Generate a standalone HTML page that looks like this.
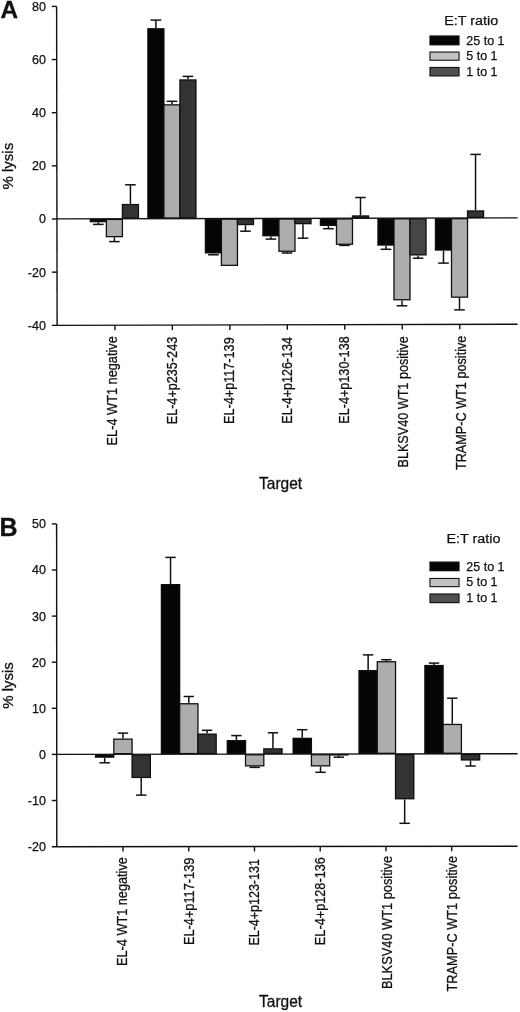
<!DOCTYPE html>
<html><head><meta charset="utf-8"><title>Figure</title>
<style>
html,body{margin:0;padding:0;background:#fff;}
body{width:520px;height:1012px;overflow:hidden;}
svg{display:block;will-change:transform;filter:blur(0.4px);}
text{font-family:"Liberation Sans", sans-serif;fill:#111;}
</style></head>
<body>
<svg width="520" height="1012" viewBox="0 0 520 1012">
<rect width="520" height="1012" fill="#fff"/>
<line x1="56.60" y1="6.40" x2="57.10" y2="325.40" stroke="#111" stroke-width="1.4"/>
<line x1="51.80" y1="6.40" x2="56.60" y2="6.40" stroke="#111" stroke-width="1.4"/>
<line x1="51.80" y1="59.55" x2="56.68" y2="59.55" stroke="#111" stroke-width="1.4"/>
<line x1="51.80" y1="112.70" x2="56.77" y2="112.70" stroke="#111" stroke-width="1.4"/>
<line x1="51.80" y1="165.85" x2="56.85" y2="165.85" stroke="#111" stroke-width="1.4"/>
<line x1="51.80" y1="219.00" x2="56.93" y2="219.00" stroke="#111" stroke-width="1.4"/>
<line x1="51.80" y1="272.15" x2="57.02" y2="272.15" stroke="#111" stroke-width="1.4"/>
<text stroke-linejoin="round" x="45.90" y="10.80" font-size="12.5" text-anchor="end" font-weight="normal" stroke="#111" stroke-width="0.25">80</text>
<text stroke-linejoin="round" x="45.90" y="63.95" font-size="12.5" text-anchor="end" font-weight="normal" stroke="#111" stroke-width="0.25">60</text>
<text stroke-linejoin="round" x="45.90" y="117.10" font-size="12.5" text-anchor="end" font-weight="normal" stroke="#111" stroke-width="0.25">40</text>
<text stroke-linejoin="round" x="45.90" y="170.25" font-size="12.5" text-anchor="end" font-weight="normal" stroke="#111" stroke-width="0.25">20</text>
<text stroke-linejoin="round" x="45.90" y="223.40" font-size="12.5" text-anchor="end" font-weight="normal" stroke="#111" stroke-width="0.25">0</text>
<text stroke-linejoin="round" x="45.90" y="276.55" font-size="12.5" text-anchor="end" font-weight="normal" stroke="#111" stroke-width="0.25">-20</text>
<text stroke-linejoin="round" x="45.90" y="329.70" font-size="12.5" text-anchor="end" font-weight="normal" stroke="#111" stroke-width="0.25">-40</text>
<line x1="56.80" y1="218.90" x2="517.60" y2="217.90" stroke="#111" stroke-width="1.4"/>
<line x1="51.80" y1="325.40" x2="517.60" y2="324.20" stroke="#111" stroke-width="1.4"/>
<line x1="114.90" y1="325.24" x2="114.90" y2="330.24" stroke="#111" stroke-width="1.4"/>
<line x1="172.37" y1="325.09" x2="172.37" y2="330.09" stroke="#111" stroke-width="1.4"/>
<line x1="229.84" y1="324.94" x2="229.84" y2="329.94" stroke="#111" stroke-width="1.4"/>
<line x1="287.31" y1="324.79" x2="287.31" y2="329.79" stroke="#111" stroke-width="1.4"/>
<line x1="344.78" y1="324.65" x2="344.78" y2="329.65" stroke="#111" stroke-width="1.4"/>
<line x1="402.25" y1="324.50" x2="402.25" y2="329.50" stroke="#111" stroke-width="1.4"/>
<line x1="459.72" y1="324.35" x2="459.72" y2="329.35" stroke="#111" stroke-width="1.4"/>
<line x1="98.37" y1="222.30" x2="98.37" y2="224.40" stroke="#111" stroke-width="1.5"/>
<line x1="93.07" y1="224.40" x2="103.67" y2="224.40" stroke="#111" stroke-width="1.5"/>
<rect x="89.70" y="218.81" width="17.33" height="3.49" fill="#111"/>
<rect x="91.00" y="220.11" width="14.73" height="0.89" fill="#050505"/>
<line x1="114.40" y1="237.30" x2="114.40" y2="241.60" stroke="#111" stroke-width="1.5"/>
<line x1="109.10" y1="241.60" x2="119.70" y2="241.60" stroke="#111" stroke-width="1.5"/>
<rect x="105.73" y="218.78" width="17.33" height="18.52" fill="#111"/>
<rect x="107.03" y="220.08" width="14.73" height="15.92" fill="#adadad"/>
<line x1="130.43" y1="203.90" x2="130.43" y2="184.80" stroke="#111" stroke-width="1.5"/>
<line x1="125.13" y1="184.80" x2="135.73" y2="184.80" stroke="#111" stroke-width="1.5"/>
<rect x="121.76" y="203.90" width="17.33" height="14.84" fill="#111"/>
<rect x="123.06" y="205.20" width="14.73" height="12.24" fill="#333333"/>
<line x1="155.88" y1="28.10" x2="155.88" y2="20.10" stroke="#111" stroke-width="1.5"/>
<line x1="150.58" y1="20.10" x2="161.19" y2="20.10" stroke="#111" stroke-width="1.5"/>
<rect x="147.22" y="28.10" width="17.33" height="190.58" fill="#111"/>
<rect x="148.52" y="29.40" width="14.73" height="187.98" fill="#050505"/>
<line x1="171.92" y1="104.20" x2="171.92" y2="101.30" stroke="#111" stroke-width="1.5"/>
<line x1="166.62" y1="101.30" x2="177.22" y2="101.30" stroke="#111" stroke-width="1.5"/>
<rect x="163.25" y="104.20" width="17.33" height="114.45" fill="#111"/>
<rect x="164.55" y="105.50" width="14.73" height="111.85" fill="#adadad"/>
<line x1="187.94" y1="79.30" x2="187.94" y2="76.40" stroke="#111" stroke-width="1.5"/>
<line x1="182.64" y1="76.40" x2="193.25" y2="76.40" stroke="#111" stroke-width="1.5"/>
<rect x="179.28" y="79.30" width="17.33" height="139.32" fill="#111"/>
<rect x="180.58" y="80.60" width="14.73" height="136.72" fill="#333333"/>
<line x1="213.41" y1="253.50" x2="213.41" y2="254.80" stroke="#111" stroke-width="1.5"/>
<line x1="208.11" y1="254.80" x2="218.71" y2="254.80" stroke="#111" stroke-width="1.5"/>
<rect x="204.74" y="218.56" width="17.33" height="34.94" fill="#111"/>
<rect x="206.04" y="219.86" width="14.73" height="32.34" fill="#050505"/>
<rect x="220.77" y="218.53" width="17.33" height="47.47" fill="#111"/>
<rect x="222.07" y="219.83" width="14.73" height="44.87" fill="#adadad"/>
<line x1="245.47" y1="225.20" x2="245.47" y2="231.20" stroke="#111" stroke-width="1.5"/>
<line x1="240.17" y1="231.20" x2="250.77" y2="231.20" stroke="#111" stroke-width="1.5"/>
<rect x="236.80" y="218.49" width="17.33" height="6.71" fill="#111"/>
<rect x="238.10" y="219.79" width="14.73" height="4.11" fill="#333333"/>
<line x1="270.92" y1="236.40" x2="270.92" y2="239.10" stroke="#111" stroke-width="1.5"/>
<line x1="265.62" y1="239.10" x2="276.22" y2="239.10" stroke="#111" stroke-width="1.5"/>
<rect x="262.26" y="218.44" width="17.33" height="17.96" fill="#111"/>
<rect x="263.56" y="219.74" width="14.73" height="15.36" fill="#050505"/>
<line x1="286.95" y1="251.90" x2="286.95" y2="253.00" stroke="#111" stroke-width="1.5"/>
<line x1="281.65" y1="253.00" x2="292.25" y2="253.00" stroke="#111" stroke-width="1.5"/>
<rect x="278.29" y="218.40" width="17.33" height="33.50" fill="#111"/>
<rect x="279.59" y="219.70" width="14.73" height="30.90" fill="#adadad"/>
<line x1="302.99" y1="224.30" x2="302.99" y2="238.20" stroke="#111" stroke-width="1.5"/>
<line x1="297.69" y1="238.20" x2="308.29" y2="238.20" stroke="#111" stroke-width="1.5"/>
<rect x="294.32" y="218.37" width="17.33" height="5.93" fill="#111"/>
<rect x="295.62" y="219.67" width="14.73" height="3.33" fill="#333333"/>
<line x1="328.45" y1="226.00" x2="328.45" y2="228.70" stroke="#111" stroke-width="1.5"/>
<line x1="323.15" y1="228.70" x2="333.75" y2="228.70" stroke="#111" stroke-width="1.5"/>
<rect x="319.78" y="218.31" width="17.33" height="7.69" fill="#111"/>
<rect x="321.08" y="219.61" width="14.73" height="5.09" fill="#050505"/>
<line x1="344.48" y1="244.90" x2="344.48" y2="245.40" stroke="#111" stroke-width="1.5"/>
<line x1="339.18" y1="245.40" x2="349.78" y2="245.40" stroke="#111" stroke-width="1.5"/>
<rect x="335.81" y="218.28" width="17.33" height="26.62" fill="#111"/>
<rect x="337.11" y="219.58" width="14.73" height="24.02" fill="#adadad"/>
<line x1="360.50" y1="215.30" x2="360.50" y2="197.50" stroke="#111" stroke-width="1.5"/>
<line x1="355.20" y1="197.50" x2="365.81" y2="197.50" stroke="#111" stroke-width="1.5"/>
<rect x="351.84" y="215.30" width="17.33" height="2.94" fill="#111"/>
<rect x="353.14" y="216.60" width="14.73" height="0.34" fill="#333333"/>
<line x1="385.97" y1="245.70" x2="385.97" y2="249.30" stroke="#111" stroke-width="1.5"/>
<line x1="380.67" y1="249.30" x2="391.27" y2="249.30" stroke="#111" stroke-width="1.5"/>
<rect x="377.30" y="218.19" width="17.33" height="27.51" fill="#111"/>
<rect x="378.60" y="219.49" width="14.73" height="24.91" fill="#050505"/>
<line x1="402.00" y1="300.40" x2="402.00" y2="305.80" stroke="#111" stroke-width="1.5"/>
<line x1="396.69" y1="305.80" x2="407.30" y2="305.80" stroke="#111" stroke-width="1.5"/>
<rect x="393.33" y="218.15" width="17.33" height="82.25" fill="#111"/>
<rect x="394.63" y="219.45" width="14.73" height="79.65" fill="#adadad"/>
<line x1="418.02" y1="255.50" x2="418.02" y2="258.20" stroke="#111" stroke-width="1.5"/>
<line x1="412.72" y1="258.20" x2="423.32" y2="258.20" stroke="#111" stroke-width="1.5"/>
<rect x="409.36" y="218.12" width="17.33" height="37.38" fill="#111"/>
<rect x="410.66" y="219.42" width="14.73" height="34.78" fill="#464646"/>
<line x1="443.49" y1="250.70" x2="443.49" y2="263.10" stroke="#111" stroke-width="1.5"/>
<line x1="438.19" y1="263.10" x2="448.79" y2="263.10" stroke="#111" stroke-width="1.5"/>
<rect x="434.82" y="218.06" width="17.33" height="32.64" fill="#111"/>
<rect x="436.12" y="219.36" width="14.73" height="30.04" fill="#050505"/>
<line x1="459.51" y1="297.80" x2="459.51" y2="309.90" stroke="#111" stroke-width="1.5"/>
<line x1="454.21" y1="309.90" x2="464.81" y2="309.90" stroke="#111" stroke-width="1.5"/>
<rect x="450.85" y="218.03" width="17.33" height="79.77" fill="#111"/>
<rect x="452.15" y="219.33" width="14.73" height="77.17" fill="#adadad"/>
<line x1="475.54" y1="210.30" x2="475.54" y2="154.40" stroke="#111" stroke-width="1.5"/>
<line x1="470.24" y1="154.40" x2="480.84" y2="154.40" stroke="#111" stroke-width="1.5"/>
<rect x="466.88" y="210.30" width="17.33" height="7.69" fill="#111"/>
<rect x="468.18" y="211.60" width="14.73" height="5.09" fill="#333333"/>
<text stroke-linejoin="round" transform="translate(116.90 336.22) rotate(-90) scale(1 1.1)" font-size="12.85" text-anchor="end" font-weight="normal" textLength="109.17" lengthAdjust="spacingAndGlyphs" stroke="#111" stroke-width="0.25">EL-4 WT1 negative</text>
<text stroke-linejoin="round" transform="translate(177.30 336.82) rotate(-90) scale(1 1.1)" font-size="12.85" text-anchor="end" font-weight="normal" textLength="87.49" lengthAdjust="spacingAndGlyphs" stroke="#111" stroke-width="0.25">EL-4+p235-243</text>
<text stroke-linejoin="round" transform="translate(233.90 337.34) rotate(-90) scale(1 1.1)" font-size="12.85" text-anchor="end" font-weight="normal" textLength="86.58" lengthAdjust="spacingAndGlyphs" stroke="#111" stroke-width="0.25">EL-4+p117-139</text>
<text stroke-linejoin="round" transform="translate(292.10 337.09) rotate(-90) scale(1 1.1)" font-size="12.85" text-anchor="end" font-weight="normal" textLength="86.63" lengthAdjust="spacingAndGlyphs" stroke="#111" stroke-width="0.25">EL-4+p126-134</text>
<text stroke-linejoin="round" transform="translate(348.90 336.34) rotate(-90) scale(1 1.1)" font-size="12.85" text-anchor="end" font-weight="normal" textLength="87.38" lengthAdjust="spacingAndGlyphs" stroke="#111" stroke-width="0.25">EL-4+p130-138</text>
<text stroke-linejoin="round" transform="translate(407.92 336.30) rotate(-90) scale(1 1.1)" font-size="12.85" text-anchor="end" font-weight="normal" textLength="131.23" lengthAdjust="spacingAndGlyphs" stroke="#111" stroke-width="0.25">BLKSV40 WT1 positive</text>
<text stroke-linejoin="round" transform="translate(465.89 335.64) rotate(-90) scale(1 1.1)" font-size="12.85" text-anchor="end" font-weight="normal" textLength="134.45" lengthAdjust="spacingAndGlyphs" stroke="#111" stroke-width="0.25">TRAMP-C WT1 positive</text>
<text stroke-linejoin="round" transform="translate(13.00 166.20) rotate(-90) scale(1 1.02)" font-size="15" text-anchor="middle" font-weight="normal" stroke="#111" stroke-width="0.3">% lysis</text>
<text stroke-linejoin="round" transform="translate(280.60 489.00) scale(1 1.08)" font-size="15.5" text-anchor="middle" font-weight="normal" stroke="#111" stroke-width="0.3">Target</text>
<text stroke-linejoin="round" x="444.20" y="24.90" font-size="12.5" text-anchor="start" font-weight="normal" textLength="54.0" lengthAdjust="spacingAndGlyphs" stroke="#111" stroke-width="0.25">E:T ratio</text>
<rect x="429.4" y="35.40" width="30.2" height="10.00" fill="#111"/>
<rect x="430.5" y="36.50" width="28" height="7.80" fill="#050505"/>
<text stroke-linejoin="round" x="466.30" y="44.60" font-size="12.5" text-anchor="start" font-weight="normal" stroke="#111" stroke-width="0.25">25 to 1</text>
<rect x="429.4" y="51.50" width="30.2" height="9.30" fill="#111"/>
<rect x="430.5" y="52.60" width="28" height="7.10" fill="#c2c2c2"/>
<text stroke-linejoin="round" x="466.30" y="60.00" font-size="12.5" text-anchor="start" font-weight="normal" stroke="#111" stroke-width="0.25">5 to 1</text>
<rect x="429.4" y="66.90" width="30.2" height="9.60" fill="#111"/>
<rect x="430.5" y="68.00" width="28" height="7.40" fill="#505050"/>
<text stroke-linejoin="round" x="466.30" y="75.80" font-size="12.5" text-anchor="start" font-weight="normal" stroke="#111" stroke-width="0.25">1 to 1</text>
<text stroke-linejoin="round" x="0.60" y="17.80" font-size="24" text-anchor="start" font-weight="bold" textLength="17.6" lengthAdjust="spacingAndGlyphs" stroke="#111" stroke-width="0.3">A</text>
<line x1="56.60" y1="523.90" x2="56.80" y2="846.70" stroke="#111" stroke-width="1.4"/>
<line x1="51.80" y1="523.90" x2="56.60" y2="523.90" stroke="#111" stroke-width="1.4"/>
<line x1="51.80" y1="570.00" x2="56.63" y2="570.00" stroke="#111" stroke-width="1.4"/>
<line x1="51.80" y1="616.10" x2="56.66" y2="616.10" stroke="#111" stroke-width="1.4"/>
<line x1="51.80" y1="662.20" x2="56.69" y2="662.20" stroke="#111" stroke-width="1.4"/>
<line x1="51.80" y1="708.30" x2="56.71" y2="708.30" stroke="#111" stroke-width="1.4"/>
<line x1="51.80" y1="754.40" x2="56.74" y2="754.40" stroke="#111" stroke-width="1.4"/>
<line x1="51.80" y1="800.50" x2="56.77" y2="800.50" stroke="#111" stroke-width="1.4"/>
<text stroke-linejoin="round" x="45.90" y="528.30" font-size="12.5" text-anchor="end" font-weight="normal" stroke="#111" stroke-width="0.25">50</text>
<text stroke-linejoin="round" x="45.90" y="574.40" font-size="12.5" text-anchor="end" font-weight="normal" stroke="#111" stroke-width="0.25">40</text>
<text stroke-linejoin="round" x="45.90" y="620.50" font-size="12.5" text-anchor="end" font-weight="normal" stroke="#111" stroke-width="0.25">30</text>
<text stroke-linejoin="round" x="45.90" y="666.60" font-size="12.5" text-anchor="end" font-weight="normal" stroke="#111" stroke-width="0.25">20</text>
<text stroke-linejoin="round" x="45.90" y="712.70" font-size="12.5" text-anchor="end" font-weight="normal" stroke="#111" stroke-width="0.25">10</text>
<text stroke-linejoin="round" x="45.90" y="758.80" font-size="12.5" text-anchor="end" font-weight="normal" stroke="#111" stroke-width="0.25">0</text>
<text stroke-linejoin="round" x="45.90" y="804.90" font-size="12.5" text-anchor="end" font-weight="normal" stroke="#111" stroke-width="0.25">-10</text>
<text stroke-linejoin="round" x="45.90" y="851.00" font-size="12.5" text-anchor="end" font-weight="normal" stroke="#111" stroke-width="0.25">-20</text>
<line x1="56.80" y1="754.40" x2="517.60" y2="753.80" stroke="#111" stroke-width="1.4"/>
<line x1="51.80" y1="846.70" x2="517.60" y2="846.20" stroke="#111" stroke-width="1.4"/>
<line x1="123.00" y1="846.62" x2="123.00" y2="851.62" stroke="#111" stroke-width="1.4"/>
<line x1="188.74" y1="846.55" x2="188.74" y2="851.55" stroke="#111" stroke-width="1.4"/>
<line x1="254.48" y1="846.48" x2="254.48" y2="851.48" stroke="#111" stroke-width="1.4"/>
<line x1="320.22" y1="846.41" x2="320.22" y2="851.41" stroke="#111" stroke-width="1.4"/>
<line x1="385.96" y1="846.34" x2="385.96" y2="851.34" stroke="#111" stroke-width="1.4"/>
<line x1="451.70" y1="846.27" x2="451.70" y2="851.27" stroke="#111" stroke-width="1.4"/>
<line x1="104.67" y1="757.80" x2="104.67" y2="762.80" stroke="#111" stroke-width="1.5"/>
<line x1="99.47" y1="762.80" x2="109.87" y2="762.80" stroke="#111" stroke-width="1.5"/>
<rect x="94.89" y="754.34" width="19.57" height="3.46" fill="#111"/>
<rect x="96.19" y="755.64" width="16.97" height="0.86" fill="#050505"/>
<line x1="122.94" y1="738.50" x2="122.94" y2="733.10" stroke="#111" stroke-width="1.5"/>
<line x1="117.74" y1="733.10" x2="128.14" y2="733.10" stroke="#111" stroke-width="1.5"/>
<rect x="113.16" y="738.50" width="19.57" height="15.81" fill="#111"/>
<rect x="114.45" y="739.80" width="16.97" height="13.21" fill="#adadad"/>
<line x1="141.21" y1="778.10" x2="141.21" y2="795.10" stroke="#111" stroke-width="1.5"/>
<line x1="136.01" y1="795.10" x2="146.41" y2="795.10" stroke="#111" stroke-width="1.5"/>
<rect x="131.43" y="754.29" width="19.57" height="23.81" fill="#111"/>
<rect x="132.73" y="755.59" width="16.97" height="21.21" fill="#333333"/>
<line x1="170.54" y1="584.00" x2="170.54" y2="557.40" stroke="#111" stroke-width="1.5"/>
<line x1="165.34" y1="557.40" x2="175.74" y2="557.40" stroke="#111" stroke-width="1.5"/>
<rect x="160.75" y="584.00" width="19.57" height="170.25" fill="#111"/>
<rect x="162.05" y="585.30" width="16.97" height="167.65" fill="#050505"/>
<line x1="188.81" y1="703.10" x2="188.81" y2="696.50" stroke="#111" stroke-width="1.5"/>
<line x1="183.61" y1="696.50" x2="194.01" y2="696.50" stroke="#111" stroke-width="1.5"/>
<rect x="179.02" y="703.10" width="19.57" height="51.13" fill="#111"/>
<rect x="180.32" y="704.40" width="16.97" height="48.53" fill="#adadad"/>
<line x1="207.08" y1="733.50" x2="207.08" y2="730.30" stroke="#111" stroke-width="1.5"/>
<line x1="201.88" y1="730.30" x2="212.28" y2="730.30" stroke="#111" stroke-width="1.5"/>
<rect x="197.29" y="733.50" width="19.57" height="20.70" fill="#111"/>
<rect x="198.59" y="734.80" width="16.97" height="18.10" fill="#333333"/>
<line x1="236.40" y1="740.00" x2="236.40" y2="735.60" stroke="#111" stroke-width="1.5"/>
<line x1="231.20" y1="735.60" x2="241.60" y2="735.60" stroke="#111" stroke-width="1.5"/>
<rect x="226.62" y="740.00" width="19.57" height="14.17" fill="#111"/>
<rect x="227.92" y="741.30" width="16.97" height="11.57" fill="#050505"/>
<line x1="254.67" y1="766.50" x2="254.67" y2="767.40" stroke="#111" stroke-width="1.5"/>
<line x1="249.47" y1="767.40" x2="259.87" y2="767.40" stroke="#111" stroke-width="1.5"/>
<rect x="244.89" y="754.14" width="19.57" height="12.36" fill="#111"/>
<rect x="246.19" y="755.44" width="16.97" height="9.76" fill="#adadad"/>
<line x1="272.94" y1="748.20" x2="272.94" y2="732.80" stroke="#111" stroke-width="1.5"/>
<line x1="267.74" y1="732.80" x2="278.14" y2="732.80" stroke="#111" stroke-width="1.5"/>
<rect x="263.16" y="748.20" width="19.57" height="5.92" fill="#111"/>
<rect x="264.46" y="749.50" width="16.97" height="3.32" fill="#333333"/>
<line x1="302.27" y1="737.70" x2="302.27" y2="729.70" stroke="#111" stroke-width="1.5"/>
<line x1="297.07" y1="729.70" x2="307.47" y2="729.70" stroke="#111" stroke-width="1.5"/>
<rect x="292.48" y="737.70" width="19.57" height="16.38" fill="#111"/>
<rect x="293.78" y="739.00" width="16.97" height="13.78" fill="#050505"/>
<line x1="320.54" y1="766.50" x2="320.54" y2="772.30" stroke="#111" stroke-width="1.5"/>
<line x1="315.34" y1="772.30" x2="325.74" y2="772.30" stroke="#111" stroke-width="1.5"/>
<rect x="310.75" y="754.06" width="19.57" height="12.44" fill="#111"/>
<rect x="312.05" y="755.36" width="16.97" height="9.84" fill="#adadad"/>
<line x1="338.81" y1="755.60" x2="338.81" y2="757.20" stroke="#111" stroke-width="1.5"/>
<line x1="333.61" y1="757.20" x2="344.01" y2="757.20" stroke="#111" stroke-width="1.5"/>
<rect x="329.02" y="754.03" width="19.57" height="1.57" fill="#111"/>
<line x1="368.13" y1="670.00" x2="368.13" y2="654.90" stroke="#111" stroke-width="1.5"/>
<line x1="362.93" y1="654.90" x2="373.33" y2="654.90" stroke="#111" stroke-width="1.5"/>
<rect x="358.35" y="670.00" width="19.57" height="83.99" fill="#111"/>
<rect x="359.65" y="671.30" width="16.97" height="81.39" fill="#050505"/>
<line x1="386.40" y1="661.10" x2="386.40" y2="659.70" stroke="#111" stroke-width="1.5"/>
<line x1="381.20" y1="659.70" x2="391.60" y2="659.70" stroke="#111" stroke-width="1.5"/>
<rect x="376.62" y="661.10" width="19.57" height="92.87" fill="#111"/>
<rect x="377.92" y="662.40" width="16.97" height="90.27" fill="#adadad"/>
<line x1="404.67" y1="799.40" x2="404.67" y2="823.30" stroke="#111" stroke-width="1.5"/>
<line x1="399.47" y1="823.30" x2="409.87" y2="823.30" stroke="#111" stroke-width="1.5"/>
<rect x="394.89" y="753.95" width="19.57" height="45.45" fill="#111"/>
<rect x="396.19" y="755.25" width="16.97" height="42.85" fill="#333333"/>
<line x1="434.00" y1="664.90" x2="434.00" y2="663.10" stroke="#111" stroke-width="1.5"/>
<line x1="428.80" y1="663.10" x2="439.20" y2="663.10" stroke="#111" stroke-width="1.5"/>
<rect x="424.21" y="664.90" width="19.57" height="89.01" fill="#111"/>
<rect x="425.51" y="666.20" width="16.97" height="86.41" fill="#050505"/>
<line x1="452.27" y1="723.80" x2="452.27" y2="698.20" stroke="#111" stroke-width="1.5"/>
<line x1="447.07" y1="698.20" x2="457.47" y2="698.20" stroke="#111" stroke-width="1.5"/>
<rect x="442.48" y="723.80" width="19.57" height="30.09" fill="#111"/>
<rect x="443.78" y="725.10" width="16.97" height="27.49" fill="#adadad"/>
<line x1="470.54" y1="760.60" x2="470.54" y2="766.00" stroke="#111" stroke-width="1.5"/>
<line x1="465.34" y1="766.00" x2="475.74" y2="766.00" stroke="#111" stroke-width="1.5"/>
<rect x="460.75" y="753.86" width="19.57" height="6.74" fill="#111"/>
<rect x="462.06" y="755.16" width="16.97" height="4.14" fill="#333333"/>
<text stroke-linejoin="round" transform="translate(127.30 857.17) rotate(-90) scale(1 1.1)" font-size="12.85" text-anchor="end" font-weight="normal" textLength="108.83" lengthAdjust="spacingAndGlyphs" stroke="#111" stroke-width="0.25">EL-4 WT1 negative</text>
<text stroke-linejoin="round" transform="translate(193.50 857.59) rotate(-90) scale(1 1.1)" font-size="12.85" text-anchor="end" font-weight="normal" textLength="87.54" lengthAdjust="spacingAndGlyphs" stroke="#111" stroke-width="0.25">EL-4+p117-139</text>
<text stroke-linejoin="round" transform="translate(259.30 859.17) rotate(-90) scale(1 1.1)" font-size="12.85" text-anchor="end" font-weight="normal" textLength="86.42" lengthAdjust="spacingAndGlyphs" stroke="#111" stroke-width="0.25">EL-4+p123-131</text>
<text stroke-linejoin="round" transform="translate(325.10 857.09) rotate(-90) scale(1 1.1)" font-size="12.85" text-anchor="end" font-weight="normal" textLength="88.07" lengthAdjust="spacingAndGlyphs" stroke="#111" stroke-width="0.25">EL-4+p128-136</text>
<text stroke-linejoin="round" transform="translate(391.50 855.88) rotate(-90) scale(1 1.1)" font-size="12.85" text-anchor="end" font-weight="normal" textLength="133.19" lengthAdjust="spacingAndGlyphs" stroke="#111" stroke-width="0.25">BLKSV40 WT1 positive</text>
<text stroke-linejoin="round" transform="translate(456.79 855.88) rotate(-90) scale(1 1.1)" font-size="12.85" text-anchor="end" font-weight="normal" textLength="135.66" lengthAdjust="spacingAndGlyphs" stroke="#111" stroke-width="0.25">TRAMP-C WT1 positive</text>
<text stroke-linejoin="round" transform="translate(13.00 685.50) rotate(-90) scale(1 1.02)" font-size="15" text-anchor="middle" font-weight="normal" stroke="#111" stroke-width="0.3">% lysis</text>
<text stroke-linejoin="round" transform="translate(280.60 1007.30) scale(1 1.08)" font-size="15.5" text-anchor="middle" font-weight="normal" stroke="#111" stroke-width="0.3">Target</text>
<text stroke-linejoin="round" x="446.50" y="542.60" font-size="12.5" text-anchor="start" font-weight="normal" textLength="54.0" lengthAdjust="spacingAndGlyphs" stroke="#111" stroke-width="0.25">E:T ratio</text>
<rect x="429.4" y="561.50" width="30.2" height="9.80" fill="#111"/>
<rect x="430.5" y="562.60" width="28" height="7.60" fill="#050505"/>
<text stroke-linejoin="round" x="466.30" y="570.50" font-size="12.5" text-anchor="start" font-weight="normal" stroke="#111" stroke-width="0.25">25 to 1</text>
<rect x="429.4" y="577.90" width="30.2" height="9.30" fill="#111"/>
<rect x="430.5" y="579.00" width="28" height="7.10" fill="#c2c2c2"/>
<text stroke-linejoin="round" x="466.30" y="586.40" font-size="12.5" text-anchor="start" font-weight="normal" stroke="#111" stroke-width="0.25">5 to 1</text>
<rect x="429.4" y="593.40" width="30.2" height="9.80" fill="#111"/>
<rect x="430.5" y="594.50" width="28" height="7.60" fill="#505050"/>
<text stroke-linejoin="round" x="466.30" y="602.40" font-size="12.5" text-anchor="start" font-weight="normal" stroke="#111" stroke-width="0.25">1 to 1</text>
<text stroke-linejoin="round" x="-0.60" y="535.60" font-size="25" text-anchor="start" font-weight="bold" stroke="#111" stroke-width="0.3">B</text>
</svg>
</body></html>
